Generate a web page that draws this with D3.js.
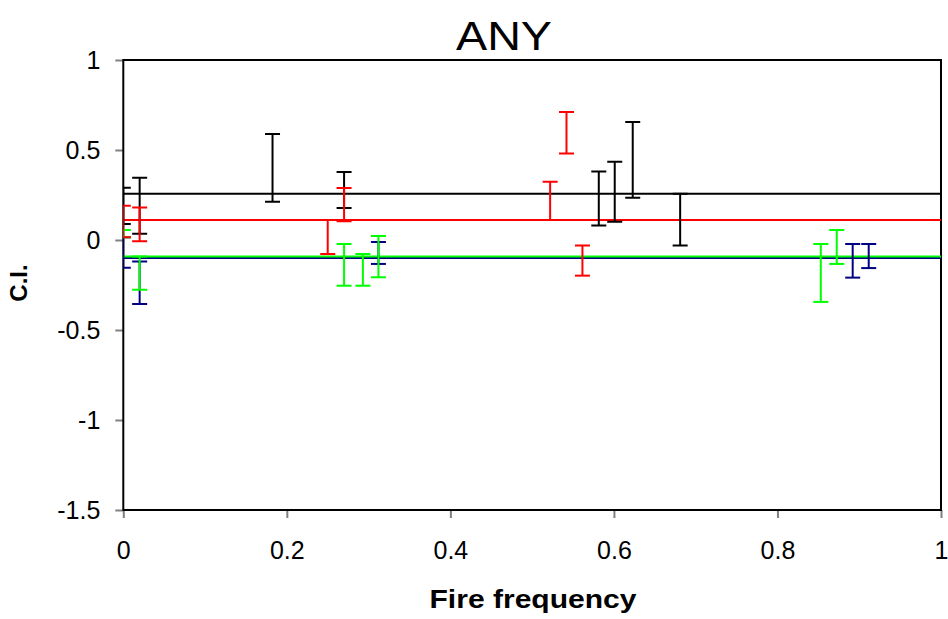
<!DOCTYPE html>
<html><head><meta charset="utf-8">
<script src="https://cdn.jsdelivr.net/npm/d3@7"></script>
<style>body{margin:0;background:#fff}svg{display:block}text{font-family:"Liberation Sans",Arial,sans-serif}</style>
</head><body>
<svg id="c" width="948" height="619"></svg>
<script>
const title = "ANY";
const xLabel = "Fire frequency";
const yLabel = "C.I.";
const xTicks = [0, 0.2, 0.4, 0.6, 0.8, 1];
const xTickLabels = ["0", "0.2", "0.4", "0.6", "0.8", "1"];
const yTicks = [1, 0.5, 0, -0.5, -1, -1.5];
const yTickLabels = ["1", "0.5", "0", "-0.5", "-1", "-1.5"];

const seriesNames = ["navy", "black", "green", "red"];
const seriesColors = ["#000080", "#000000", "#00FF00", "#FF0000"];
const seriesMeans = [-0.1, 0.257, -0.091, 0.111];

const blackX = [0, 0.02, 0.1825, 0.27, 0.5815, 0.601, 0.623, 0.681];
const blackLow = [0.089, 0.035, 0.213, 0.178, 0.08, 0.102, 0.235, -0.031];
const blackHigh = [0.29, 0.346, 0.589, 0.378, 0.38, 0.435, 0.656, 0.257];

const redX = [0, 0.02, 0.25, 0.27, 0.522, 0.542, 0.5615];
const redLow = [0.015, -0.007, -0.078, 0.104, 0.111, 0.48, -0.198];
const redHigh = [0.19, 0.18, 0.111, 0.289, 0.324, 0.711, -0.031];

const greenX = [0, 0.02, 0.27, 0.293, 0.312, 0.853, 0.8725];
const greenLow = [0.015, -0.276, -0.254, -0.254, -0.207, -0.344, -0.133];
const greenHigh = [0.056, -0.091, -0.022, -0.078, 0.022, -0.022, 0.056];

const navyX = [0, 0.02, 0.312, 0.892, 0.9116];
const navyLow = [-0.154, -0.356, -0.133, -0.209, -0.156];
const navyHigh = [0.015, -0.12, -0.011, -0.022, -0.022];

const seriesData = [
  [navyX, navyLow, navyHigh],
  [blackX, blackLow, blackHigh],
  [greenX, greenLow, greenHigh],
  [redX, redLow, redHigh]
];

const L = 123.3, R = 941, T = 60, B = 510;
const x = d3.scaleLinear().domain([0, 1]).range([L, R]);
const y = d3.scaleLinear().domain([-1.5, 1]).range([B, T]);
const svg = d3.select("#c");

svg.append("defs").append("clipPath").attr("id", "clip")
  .append("rect").attr("x", L).attr("y", T - 2).attr("width", R - L).attr("height", B - T + 4);

const xAxis = d3.axisBottom(x).tickValues(xTicks).tickSize(8).tickFormat((d, i) => xTickLabels[i]);
const gx = svg.append("g").attr("transform", `translate(0,${B})`).call(xAxis);
gx.select(".domain").remove();
gx.selectAll(".tick line").attr("stroke", "#808080").attr("stroke-width", 2);
gx.selectAll(".tick text").attr("font-size", 25).attr("fill", "#000").attr("y", 49).attr("dy", 0);

const yAxis = d3.axisLeft(y).tickValues(yTicks).tickSize(8).tickFormat((d, i) => yTickLabels[i]);
const gy = svg.append("g").attr("transform", `translate(${L},0)`).call(yAxis);
gy.select(".domain").remove();
gy.selectAll(".tick line").attr("stroke", "#808080").attr("stroke-width", 2);
gy.selectAll(".tick text").attr("font-size", 25).attr("fill", "#000").attr("x", -23).attr("dy", "0.35em");

svg.append("rect").attr("x", L).attr("y", T).attr("width", R - L).attr("height", B - T)
  .attr("fill", "none").attr("stroke", "#000").attr("stroke-width", 2);

const plot = svg.append("g").attr("clip-path", "url(#clip)");

[1, 3, 0, 2].forEach(i => {
  plot.append("line").attr("x1", x(0)).attr("x2", x(1))
    .attr("y1", y(seriesMeans[i])).attr("y2", y(seriesMeans[i]))
    .attr("stroke", seriesColors[i]).attr("stroke-width", 2);
});

const cap = 7.5;
seriesData.forEach((s, i) => {
  const [xs, lo, hi] = s;
  const g = plot.append("g").attr("stroke", seriesColors[i]).attr("stroke-width", 2);
  xs.forEach((xv, j) => {
    const px = x(xv);
    g.append("line").attr("x1", px).attr("x2", px).attr("y1", y(lo[j])).attr("y2", y(hi[j]));
    g.append("line").attr("x1", px - cap).attr("x2", px + cap).attr("y1", y(lo[j])).attr("y2", y(lo[j]));
    g.append("line").attr("x1", px - cap).attr("x2", px + cap).attr("y1", y(hi[j])).attr("y2", y(hi[j]));
  });
});

svg.append("text").attr("x", 504).attr("y", 50).attr("text-anchor", "middle")
  .attr("font-size", 41).attr("textLength", 96).attr("lengthAdjust", "spacingAndGlyphs").text(title);
svg.append("text").attr("x", 533).attr("y", 608).attr("text-anchor", "middle")
  .attr("font-size", 26).attr("font-weight", "bold").attr("textLength", 207).attr("lengthAdjust", "spacingAndGlyphs").text(xLabel);
svg.append("text").attr("transform", "translate(27,283) rotate(-90)").attr("text-anchor", "middle")
  .attr("font-size", 24).attr("font-weight", "bold").text(yLabel);
</script>
</body></html>
